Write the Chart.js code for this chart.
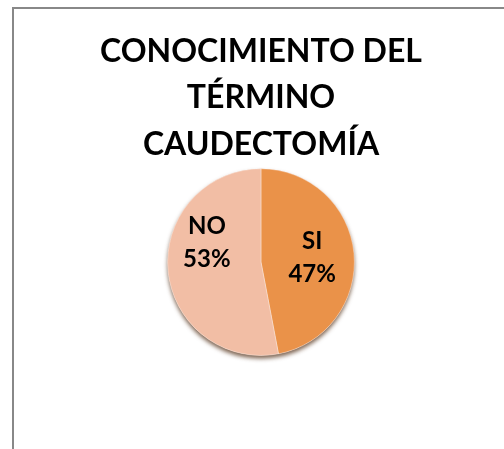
<!DOCTYPE html>
<html>
<head>
<meta charset="utf-8">
<script src="https://cdn.jsdelivr.net/npm/chart.js@4"></script>
<style>
    html, body { margin: 0; padding: 0; background: #fff; }
    #wrap { position: relative; width: 504px; height: 449px; overflow: hidden; }
    #frame {
        position: absolute; left: 12px; top: 7px;
        width: 600px; height: 600px;
        border-left: 2px solid #888; border-top: 2px solid #888;
    }
    #pieChart { position: absolute; left: 0; top: 0; }
</style>
</head>
<body>
<div id="wrap">
    <div id="frame"></div>
    <canvas id="pieChart" width="504" height="449"></canvas>
</div>
<script>
// Chart data
const categories = ['SI', 'NO'];
const percentages = [47, 53];
const titleLines = ['CONOCIMIENTO DEL', 'TÉRMINO', 'CAUDECTOMÍA'];
const sliceColors = ['#EA9249', '#F2BEA5'];

// Soft shadow under the pie, drawn once behind the slices
const pieShadow = {
    id: 'pieShadow',
    beforeDatasetsDraw(chart) {
        const arc = chart.getDatasetMeta(0).data[0];
        if (!arc) return;
        const ctx = chart.ctx;
        ctx.save();
        ctx.shadowColor = 'rgba(80, 45, 20, 0.75)';
        ctx.shadowBlur = 4;
        ctx.shadowOffsetY = 3;
        ctx.fillStyle = '#F2BEA5';
        ctx.beginPath();
        ctx.arc(arc.x, arc.y, arc.outerRadius, 0, Math.PI * 2);
        ctx.fill();
        ctx.restore();
    }
};

// Draws "NO / 53%" style labels inside each slice
const sliceLabels = {
    id: 'sliceLabels',
    afterDatasetsDraw(chart) {
        const ctx = chart.ctx;
        const meta = chart.getDatasetMeta(0);
        ctx.save();
        ctx.font = 'bold 24px Lato';
        ctx.fillStyle = '#000';
        ctx.textAlign = 'center';
        ctx.textBaseline = 'middle';
        meta.data.forEach(function(arc, i) {
            const mid = (arc.startAngle + arc.endAngle) / 2;
            const r = arc.outerRadius * 0.55;
            let x = arc.x + Math.cos(mid) * r;
            let y = arc.y + Math.sin(mid) * r;
            if (i === 1) { x -= 3; y -= 25; }
            ctx.fillText(categories[i], x, y - 16);
            ctx.fillText(percentages[i] + '%', x, y + 17);
        });
        ctx.restore();
    }
};

new Chart(document.getElementById('pieChart'), {
    type: 'pie',
    data: {
        labels: categories,
        datasets: [{
            data: percentages,
            backgroundColor: sliceColors,
            borderColor: 'rgba(255,255,255,0.35)',
            borderWidth: 1
        }]
    },
    options: {
        responsive: false,
        animation: false,
        layout: {
            padding: { left: 18, right: 0, top: 0, bottom: 93 }
        },
        plugins: {
            legend: { display: false },
            tooltip: { enabled: false },
            title: {
                display: true,
                text: titleLines,
                color: '#000',
                font: { family: 'Lato', size: 32, weight: 'bold', lineHeight: 1.44 },
                padding: { top: 29, bottom: 1 }
            }
        }
    },
    plugins: [pieShadow, sliceLabels]
});
</script>
</body>
</html>
